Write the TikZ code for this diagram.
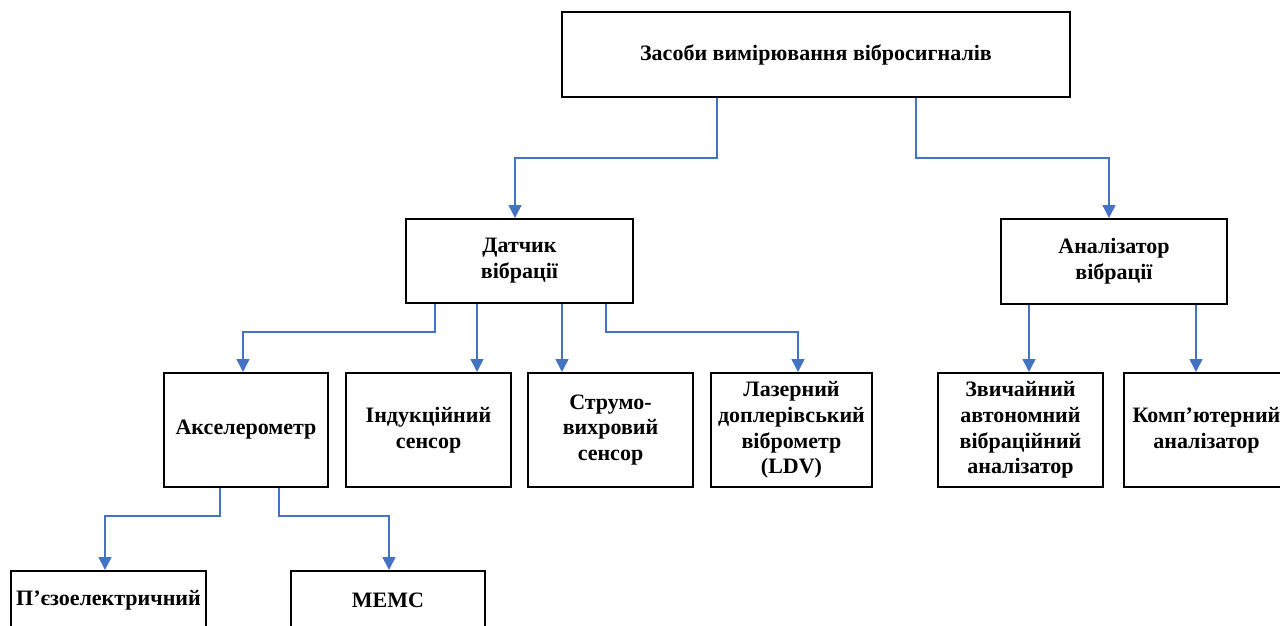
\documentclass[tikz,border=0pt]{standalone}
\usepackage{fontspec}
\setmainfont{Liberation Serif}
\usetikzlibrary{arrows.meta}
\definecolor{conn}{HTML}{4472C4}
\begin{document}
\begin{tikzpicture}[x=1pt,y=-1pt,
  box/.style={draw=black, line width=2pt, fill=white, align=center, inner sep=2pt,
    font=\fontsize{22}{25.8}\selectfont\bfseries},
  arr/.style={draw=conn, line width=1.6pt, -{Triangle[width=13pt,length=13pt]}}]
\useasboundingbox (0,0) rectangle (1280,626);
\clip (0,0) rectangle (1280,626);
\node[box, minimum width=508pt, minimum height=85pt] (top) at (816,54.5) {Засоби вимірювання вібросигналів};
\node[box, minimum width=227pt, minimum height=84pt] (dat) at (519.5,261) {Датчик\\вібрації};
\node[box, minimum width=226pt, minimum height=85pt] (ana) at (1114,261.5) {Аналізатор\\вібрації};
\node[box, minimum width=164pt, minimum height=114pt] (acc) at (246,430) {Акселерометр};
\node[box, minimum width=165pt, minimum height=114pt] (ind) at (428.5,430) {Індукційний\\сенсор};
\node[box, minimum width=165pt, minimum height=114pt] (str) at (610.5,430) {Струмо-\\вихровий\\сенсор};
\node[box, minimum width=161pt, minimum height=114pt] (laz) at (791.5,430) {Лазерний\\доплерівський\\віброметр\\(LDV)};
\node[box, minimum width=165pt, minimum height=114pt] (zvy) at (1020.5,430) {Звичайний\\автономний\\вібраційний\\аналізатор};
\node[box, minimum width=165pt, minimum height=114pt] (komp) at (1206.5,430) {Комп’ютерний\\аналізатор};
\node[box, minimum width=195pt, minimum height=58pt] (piezo) at (108.5,600) {П’єзоелектричний};
\node[box, minimum width=194pt, minimum height=58pt] (mems) at (388,600) {МЕМС};
% connectors
\draw[arr] ([xshift=-99pt]top.south) -- ++(0,60) -| ([xshift=-4.5pt]dat.north);
\draw[arr] ([xshift=100pt]top.south) -- ++(0,60) -| ([xshift=-5pt]ana.north);
\draw[arr] ([xshift=-84.5pt]dat.south) -- ++(0,28) -| ([xshift=-3pt]acc.north);
\draw[arr] ([xshift=-42.5pt]dat.south) -- ([xshift=48.5pt]ind.north);
\draw[arr] ([xshift=42.5pt]dat.south) -- ([xshift=-48.5pt]str.north);
\draw[arr] ([xshift=86.5pt]dat.south) -- ++(0,28) -| ([xshift=6.5pt]laz.north);
\draw[arr] ([xshift=-85pt]ana.south) -- ([xshift=8.5pt]zvy.north);
\draw[arr] ([xshift=82pt]ana.south) -- ([xshift=-10.5pt]komp.north);
\draw[arr] ([xshift=-26pt]acc.south) -- ++(0,28) -| ([xshift=-3.5pt]piezo.north);
\draw[arr] ([xshift=33pt]acc.south) -- ++(0,28) -| ([xshift=1pt]mems.north);
\end{tikzpicture}
\end{document}
